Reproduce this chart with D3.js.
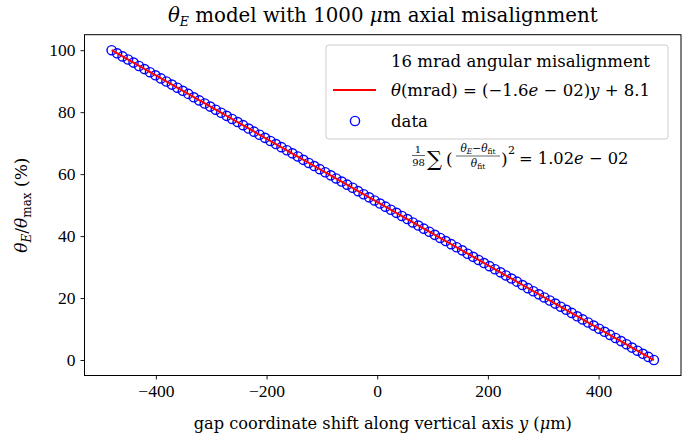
<!DOCTYPE html>
<html>
<head>
<meta charset="utf-8">
<script src="https://cdn.jsdelivr.net/npm/d3@7"></script>
<style>
  body { margin: 0; background: #fff; }
  svg { display: block; }
  text { font-family: "DejaVu Serif", "Liberation Serif", serif; fill: #000; }
</style>
</head>
<body>
<div id="chart"></div>
<script>
// ---- data ----
const yShift = [-480.0,-470.1,-460.2,-450.3,-440.4,-430.5,-420.6,-410.7,-400.8,-390.9,
  -381.0,-371.1,-361.2,-351.3,-341.4,-331.5,-321.6,-311.7,-301.8,-291.9,
  -282.0,-272.1,-262.2,-252.3,-242.4,-232.5,-222.6,-212.7,-202.8,-192.9,
  -183.0,-173.1,-163.2,-153.3,-143.4,-133.5,-123.6,-113.7,-103.8,-93.9,
  -84.0,-74.1,-64.2,-54.3,-44.4,-34.5,-24.6,-14.7,-4.8,5.1,
  14.9,24.8,34.7,44.6,54.5,64.4,74.3,84.2,94.1,104.0,
  113.9,123.8,133.7,143.6,153.5,163.4,173.3,183.2,193.1,203.0,
  212.9,222.8,232.7,242.6,252.5,262.4,272.3,282.2,292.1,302.0,
  311.9,321.8,331.7,341.6,351.5,361.4,371.3,381.2,391.1,401.0,
  410.9,420.8,430.7,440.6,450.5,460.4,470.3,480.2,490.1,500.0];
const thetaPct = [100.0,99.0,98.0,97.0,96.0,94.9,93.9,92.9,91.9,90.9,
  89.9,88.9,87.9,86.9,85.9,84.8,83.8,82.8,81.8,80.8,
  79.8,78.8,77.8,76.8,75.8,74.7,73.7,72.7,71.7,70.7,
  69.7,68.7,67.7,66.7,65.7,64.6,63.6,62.6,61.6,60.6,
  59.6,58.6,57.6,56.6,55.6,54.5,53.5,52.5,51.5,50.5,
  49.5,48.5,47.5,46.5,45.5,44.4,43.4,42.4,41.4,40.4,
  39.4,38.4,37.4,36.4,35.4,34.3,33.3,32.3,31.3,30.3,
  29.3,28.3,27.3,26.3,25.3,24.2,23.2,22.2,21.2,20.2,
  19.2,18.2,17.2,16.2,15.2,14.1,13.1,12.1,11.1,10.1,
  9.1,8.1,7.1,6.1,5.1,4.0,3.0,2.0,1.0,0.0];
const fitX = [-480, 500];
const fitY = [100, 0];
const xTicks = [-400, -200, 0, 200, 400];
const yTicks = [0, 20, 40, 60, 80, 100];

// ---- layout ----
const W = 691, H = 437;
const L = 84.5, R = 681, T = 34.7, B = 375.5;

const svg = d3.select("#chart").append("svg").attr("width", W).attr("height", H);

const xExt = d3.extent(yShift), yExt = d3.extent(thetaPct);
const xPad = (xExt[1] - xExt[0]) * 0.05, yPad = (yExt[1] - yExt[0]) * 0.05;
const x = d3.scaleLinear().domain([xExt[0] - xPad, xExt[1] + xPad]).range([L, R]);
const y = d3.scaleLinear().domain([yExt[0] - yPad, yExt[1] + yPad]).range([B, T]);

const fmt = d => (d < 0 ? "\u2212" + Math.abs(d) : String(d));

// axes
const xAxis = svg.append("g").attr("transform", `translate(0,${B})`)
  .call(d3.axisBottom(x).tickValues(xTicks).tickFormat(fmt).tickSize(4).tickPadding(5));
const yAxis = svg.append("g").attr("transform", `translate(${L},0)`)
  .call(d3.axisLeft(y).tickValues(yTicks).tickFormat(fmt).tickSize(4).tickPadding(5));
[xAxis, yAxis].forEach(a => {
  a.select(".domain").remove();
  a.selectAll("line").attr("stroke", "#000").attr("stroke-width", 0.9);
  a.selectAll("text").style("font-family", "'Liberation Serif', serif").style("font-size", "17.5px").attr("fill", "#000");
});

// frame
svg.append("rect").attr("x", L).attr("y", T).attr("width", R - L).attr("height", B - T)
  .attr("fill", "none").attr("stroke", "#000").attr("stroke-width", 1);

// data circles
svg.append("g").selectAll("circle").data(yShift).join("circle")
  .attr("cx", (d) => x(d)).attr("cy", (d, i) => y(thetaPct[i]))
  .attr("r", 4.6).attr("fill", "none").attr("stroke", "#0000ff").attr("stroke-width", 1.4);

// fit line
svg.append("path")
  .datum(fitX.map((d, i) => [d, fitY[i]]))
  .attr("d", d3.line().x(d => x(d[0])).y(d => y(d[1])))
  .attr("stroke", "#ff0000").attr("stroke-width", 2).attr("fill", "none");

// title
const title = svg.append("text").attr("x", (L + R) / 2).attr("y", 22)
  .attr("text-anchor", "middle").style("font-size", "19.8px");
title.append("tspan").style("font-style", "italic").text("θ");
title.append("tspan").attr("dy", 4).style("font-size", "12.5px").style("font-style", "italic").text("E");
title.append("tspan").attr("dy", -4).text(" model with 1000 ");
title.append("tspan").style("font-style", "italic").text("μ");
title.append("tspan").text("m axial misalignment");

// x label
const xl = svg.append("text").attr("x", (L + R) / 2).attr("y", 429)
  .attr("text-anchor", "middle").style("font-size", "16.2px");
xl.append("tspan").text("gap coordinate shift along vertical axis ");
xl.append("tspan").style("font-style", "italic").text("y");
xl.append("tspan").text(" (");
xl.append("tspan").style("font-style", "italic").text("μ");
xl.append("tspan").text("m)");

// y label
const yl = svg.append("text").attr("transform", `translate(27,${(T + B) / 2}) rotate(-90)`)
  .attr("text-anchor", "middle").style("font-size", "17px");
yl.append("tspan").style("font-style", "italic").text("θ");
yl.append("tspan").attr("dy", 4).style("font-size", "12px").style("font-style", "italic").text("E");
yl.append("tspan").attr("dy", -4).text("/");
yl.append("tspan").style("font-style", "italic").text("θ");
yl.append("tspan").attr("dy", 4).style("font-size", "12px").text("max");
yl.append("tspan").attr("dy", -4).text(" (%)");

// legend
const lg = svg.append("g");
lg.append("rect").attr("x", 326).attr("y", 45).attr("width", 342).attr("height", 94).attr("rx", 3)
  .attr("fill", "#fff").attr("fill-opacity", 0.8).attr("stroke", "#cccccc").attr("stroke-width", 1);
lg.append("text").attr("x", 391).attr("y", 67).style("font-size", "16.5px").text("16 mrad angular misalignment");
lg.append("line").attr("x1", 333).attr("x2", 376).attr("y1", 90).attr("y2", 90)
  .attr("stroke", "#ff0000").attr("stroke-width", 2);
const f = lg.append("text").attr("x", 391).attr("y", 96).style("font-size", "16.5px");
f.append("tspan").style("font-style", "italic").text("θ");
f.append("tspan").text("(mrad) = (\u22121.6");
f.append("tspan").style("font-style", "italic").text("e");
f.append("tspan").text(" \u2212 02)");
f.append("tspan").style("font-style", "italic").text("y");
f.append("tspan").text(" + 8.1");
lg.append("circle").attr("cx", 355).attr("cy", 121).attr("r", 4.6)
  .attr("fill", "none").attr("stroke", "#0000ff").attr("stroke-width", 1.4);
lg.append("text").attr("x", 391).attr("y", 127).style("font-size", "16.5px").text("data");

// annotation
const an = svg.append("g");
an.append("text").attr("x", 418).attr("y", 153).attr("text-anchor", "middle").style("font-size", "10px").text("1");
an.append("line").attr("x1", 412).attr("x2", 425).attr("y1", 155.5).attr("y2", 155.5).attr("stroke", "#000").attr("stroke-width", 0.6);
an.append("text").attr("x", 418.5).attr("y", 166).attr("text-anchor", "middle").style("font-size", "10px").text("98");
an.append("text").attr("x", 427).attr("y", 166).style("font-size", "21px").text("∑");
an.append("text").attr("x", 446).attr("y", 165).style("font-size", "17px").text("(");
const num = an.append("text").attr("x", 478).attr("y", 152).attr("text-anchor", "middle").style("font-size", "10.5px");
num.append("tspan").style("font-style", "italic").text("θ");
num.append("tspan").attr("dy", 2).style("font-size", "7.5px").style("font-style", "italic").text("E");
num.append("tspan").attr("dy", -2).text("−");
num.append("tspan").style("font-style", "italic").text("θ");
num.append("tspan").attr("dy", 2).style("font-size", "7.5px").text("fit");
an.append("line").attr("x1", 456).attr("x2", 500).attr("y1", 156).attr("y2", 156).attr("stroke", "#000").attr("stroke-width", 0.6);
const den = an.append("text").attr("x", 478).attr("y", 167).attr("text-anchor", "middle").style("font-size", "10.5px");
den.append("tspan").style("font-style", "italic").text("θ");
den.append("tspan").attr("dy", 2).style("font-size", "7.5px").text("fit");
an.append("text").attr("x", 501).attr("y", 165).style("font-size", "17px").text(")");
an.append("text").attr("x", 508).attr("y", 154).style("font-size", "11px").text("2");
const rhs = an.append("text").attr("x", 519).attr("y", 164).style("font-size", "16.3px");
rhs.append("tspan").text("= 1.02");
rhs.append("tspan").style("font-style", "italic").text("e");
rhs.append("tspan").text(" \u2212 02");
</script>
</body>
</html>
